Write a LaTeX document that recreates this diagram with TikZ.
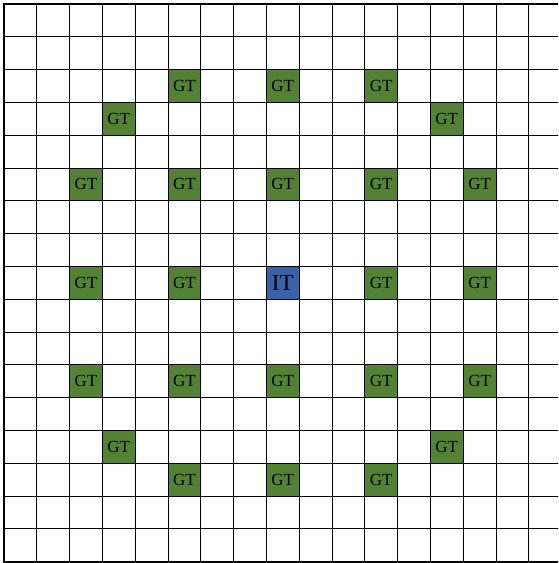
\documentclass[tikz,border=0pt]{standalone}
\usepackage{fontspec}
\setmainfont{Liberation Serif}
\definecolor{gtgreen}{HTML}{548235}
\definecolor{itblue}{HTML}{3A62A8}
\begin{document}
\begin{tikzpicture}[x=1pt,y=-1pt,
  cellbox/.style={minimum size=32.8pt,inner sep=0pt,outer sep=0pt,draw=black,line width=1pt,text=black},
  gt/.style={cellbox,fill=gtgreen,font=\fontsize{17}{17}\selectfont},
  it/.style={cellbox,fill=itblue,font=\fontsize{23}{23}\selectfont}]
\useasboundingbox (0,0) rectangle (558,563);
\fill[white] (0,0) rectangle (558,563);
\begin{scope}
\clip (0,0) rectangle (558,563);
\foreach \k in {1,...,16} {
  \draw[black,line width=1pt] ({4+32.8*\k},4) -- ({4+32.8*\k},561.6);
}
\foreach \k in {1,...,16} {
  \draw[black,line width=1pt] (4,{4+32.8*\k}) -- (560,{4+32.8*\k});
}
\draw[black,line width=2pt] (560,4) -- (4,4) -- (4,561.6) -- (560,561.6);
\end{scope}
% cells: (col,row)
\newcommand{\cellpos}[2]{({4+32.8*(#1+0.5)},{4+32.8*(#2+0.5)})}
\node[gt] (g1) at \cellpos{5}{2} {GT};
\node[gt] (g2) at \cellpos{8}{2} {GT};
\node[gt] (g3) at \cellpos{11}{2} {GT};
\node[gt] (g4) at \cellpos{3}{3} {GT};
\node[gt] (g5) at \cellpos{13}{3} {GT};
\node[gt] (g6) at \cellpos{2}{5} {GT};
\node[gt] (g7) at \cellpos{5}{5} {GT};
\node[gt] (g8) at \cellpos{8}{5} {GT};
\node[gt] (g9) at \cellpos{11}{5} {GT};
\node[gt] (g10) at \cellpos{14}{5} {GT};
\node[gt] (g11) at \cellpos{2}{8} {GT};
\node[gt] (g12) at \cellpos{5}{8} {GT};
\node[it] (it) at \cellpos{8}{8} {IT};
\node[gt] (g13) at \cellpos{11}{8} {GT};
\node[gt] (g14) at \cellpos{14}{8} {GT};
\node[gt] (g15) at \cellpos{2}{11} {GT};
\node[gt] (g16) at \cellpos{5}{11} {GT};
\node[gt] (g17) at \cellpos{8}{11} {GT};
\node[gt] (g18) at \cellpos{11}{11} {GT};
\node[gt] (g19) at \cellpos{14}{11} {GT};
\node[gt] (g20) at \cellpos{3}{13} {GT};
\node[gt] (g21) at \cellpos{13}{13} {GT};
\node[gt] (g22) at \cellpos{5}{14} {GT};
\node[gt] (g23) at \cellpos{8}{14} {GT};
\node[gt] (g24) at \cellpos{11}{14} {GT};
\end{tikzpicture}
\end{document}
